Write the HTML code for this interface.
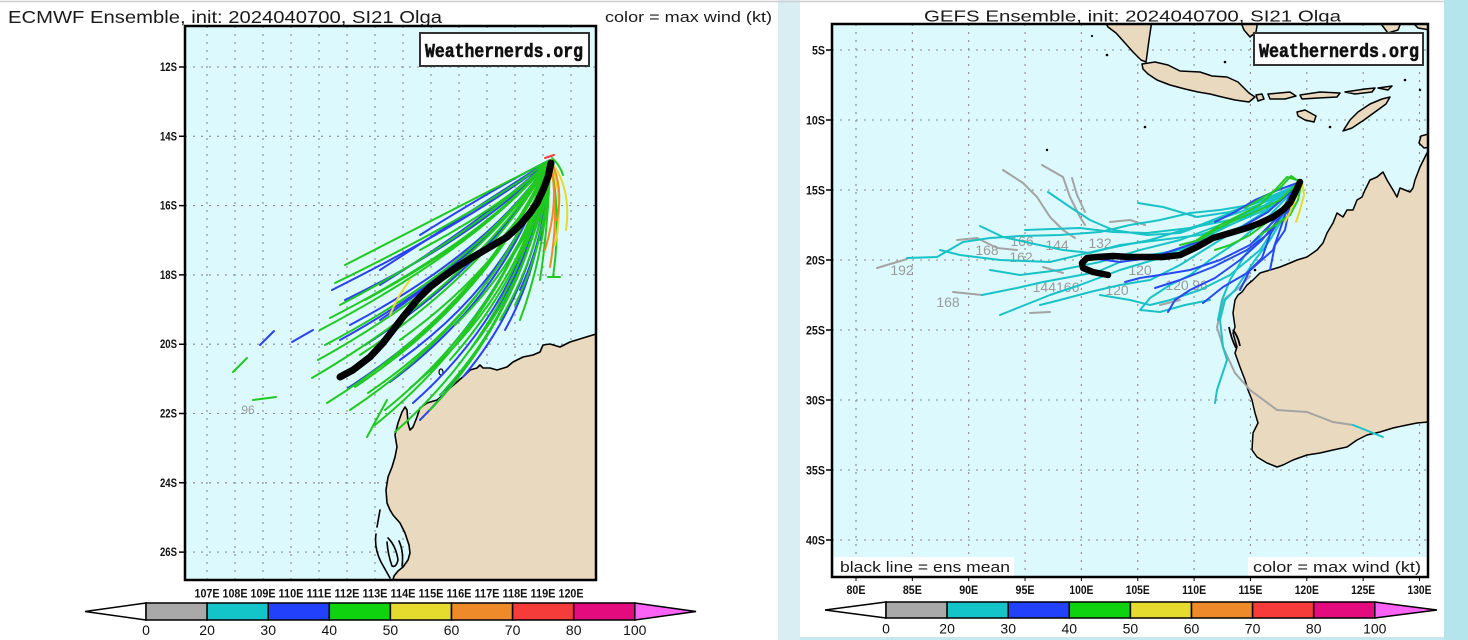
<!DOCTYPE html>
<html>
<head>
<meta charset="utf-8">
<style>
html,body{margin:0;padding:0;background:#fff;}
svg{display:block;}
</style>
</head>
<body>
<svg width="1468" height="640" viewBox="0 0 1468 640" xmlns="http://www.w3.org/2000/svg" font-family="'Liberation Sans', sans-serif">
<defs>
<clipPath id="cl"><rect x="185" y="26" width="411" height="554"/></clipPath>
<clipPath id="cr"><rect x="832" y="24" width="596" height="553"/></clipPath>
</defs>

<rect x="0" y="0" width="1468" height="640" fill="#ffffff"/>
<rect x="778" y="0" width="22" height="640" fill="#d9eef3"/>
<rect x="1444" y="0" width="24" height="640" fill="#b4e4ec"/>
<rect x="800" y="637" width="644" height="3" fill="#c5e8ee"/>
<line x1="0" y1="1.5" x2="1444" y2="1.5" stroke="#cfcfcf" stroke-width="1.5"/>

<!-- ================= LEFT PANEL (ECMWF) ================= -->
<text x="8" y="23" font-size="17.5" fill="#1a1a1a" textLength="434" lengthAdjust="spacingAndGlyphs">ECMWF Ensemble, init: 2024040700, SI21 Olga</text>
<text x="605" y="22" font-size="14.5" fill="#1a1a1a" textLength="167" lengthAdjust="spacingAndGlyphs">color = max wind (kt)</text>

<rect x="185" y="26" width="411" height="554" fill="#dcfafd"/>
<g clip-path="url(#cl)">
  <g stroke="#8a8a8a" stroke-width="1.1" stroke-dasharray="2 6" fill="none">
    <path d="M207,26V580M235,26V580M263,26V580M291,26V580M319,26V580M347,26V580M375,26V580M403,26V580M431,26V580M459,26V580M487,26V580M515,26V580M543,26V580M571,26V580"/>
    <path d="M185,67H596M185,136.3H596M185,205.6H596M185,274.9H596M185,344.2H596M185,413.5H596M185,482.8H596M185,552.1H596"/>
  </g>
  <polygon fill="#e9d9bf" stroke="#000" stroke-width="1.6" stroke-linejoin="round" points="600,333 596,334 583,338 570,342 560,347 550,344 543,345 540,352 533,355 523,357 513,362 507,367 497,370 490,368 483,368 480,365 477,368 470,370 465,375 457,382 450,388 443,395 437,400 427,403 420,408 417,417 413,427 410,430 408,423 407,410 405,407 402,412 398,423 395,435 397,447 395,457 392,467 388,477 386,490 387,503 390,510 393,515 400,523 405,533 409,545 410,553 408,560 403,567 398,571 394,576 393,580 392,586 602,586 602,333"/>
  <ellipse cx="441" cy="372" rx="2" ry="3" fill="none" stroke="#000" stroke-width="1.2"/>
  <g stroke="#000" stroke-width="1.6" fill="none" stroke-linecap="round">
    <path d="M380,510 L377,527"/>
    <path d="M376,534 Q374,548 381,562 L390,578"/>
    <path d="M388,538 Q396,546 398,560 Q396,568 392,566 Q388,555 387,542"/>
    <path d="M399,541 Q404,552 402,566"/>
  </g>
  <text x="248" y="414" font-size="12" fill="#9a9a9a" text-anchor="middle">96</text>
  <!-- blue -->
  <g fill="none" stroke="#2a40f2" stroke-width="2" stroke-linecap="round">
    <path d="M550,160 Q474,219 332,290"/>
    <path d="M550,160 Q488,230 345,300"/>
    <path d="M550,160 Q490,251 350,325"/>
    <path d="M550,160 Q487,259 340,340"/>
    <path d="M550,160 Q489,297 348,388"/>
    <path d="M550,160 Q510,293 390,382"/>
    <path d="M550,160 Q523,306 413,403"/>
    <path d="M550,160 Q524,316 420,420"/>
    <path d="M550,160 Q537,290 463,377"/>
    <path d="M550,160 Q520,275 430,370"/>
    <path d="M550,160 Q536,256 480,335"/>
    <path d="M550,160 Q547,231 520,290"/>
    <path d="M550,160 Q499,240 380,320"/>
    <path d="M550,160 Q490,216 380,285"/>
    <path d="M550,160 Q505,182 420,235"/>
    <path d="M550,160 Q482,204 380,270"/>
    <path d="M550,160 Q494,262 365,345"/>
    <path d="M550,160 Q512,280 400,360"/>
    <path d="M550,160 Q529,298 445,390"/>
    <path d="M550,160 Q543,262 505,330"/>
    <path d="M550,160 Q549,200 540,240"/>
    <path d="M260,345 L274,331"/>
    <path d="M292,342 L313,330"/>
  </g>
  <!-- green -->
  <g fill="none" stroke="#20c820" stroke-width="2" stroke-linecap="round">
    <path d="M550,160 Q475,215 335,283"/>
    <path d="M550,160 Q484,239 330,318"/>
    <path d="M550,160 Q481,245 320,330"/>
    <path d="M550,160 Q480,270 318,360"/>
    <path d="M550,160 Q479,280 312,378"/>
    <path d="M550,160 Q483,306 327,403"/>
    <path d="M550,160 Q492,296 355,387"/>
    <path d="M550,160 Q505,300 368,393"/>
    <path d="M550,160 Q493,267 360,355"/>
    <path d="M550,160 Q522,297 410,388"/>
    <path d="M550,160 Q509,310 385,410"/>
    <path d="M550,160 Q506,319 375,425"/>
    <path d="M550,160 Q519,323 395,432"/>
    <path d="M550,160 Q528,301 440,395"/>
    <path d="M550,160 Q530,270 450,360"/>
    <path d="M550,160 Q538,265 470,350"/>
    <path d="M550,160 Q543,248 500,320"/>
    <path d="M550,160 Q547,240 515,305"/>
    <path d="M550,160 Q549,220 540,280"/>
    <path d="M550,160 Q562,215 553,277 M548,277 L560,277"/>
    <path d="M550,160 Q513,259 400,340"/>
    <path d="M550,160 Q495,230 365,300"/>
    <path d="M550,160 Q511,201 420,250"/>
    <path d="M550,160 Q540,196 500,240"/>
    <path d="M550,160 Q544,210 510,260"/>
    <path d="M550,160 Q468,202 345,265"/>
    <path d="M550,160 Q483,262 325,345"/>
    <path d="M550,160 Q500,310 350,410"/>
    <path d="M550,160 Q526,310 430,410"/>
    <path d="M550,160 Q501,273 385,365"/>
    <path d="M550,160 Q531,251 455,325"/>
    <path d="M550,160 Q547,248 520,320"/>
    <path d="M550,160 Q477,233 340,305"/>
    <path d="M552,158 Q560,165 563,175"/>
    <path d="M233,372 L247,358"/>
    <path d="M253,400 L276,397"/>
    <path d="M367,437 L387,400"/>
  </g>
  <g fill="none" stroke-width="2" stroke-linecap="round">
    <path stroke="#e8d830" d="M550,160 Q572,188 566,230"/>
    <path stroke="#e8d830" d="M550,160 Q565,200 555,245"/>
    <path stroke="#e8d830" d="M410,280 Q398,295 390,315"/>
    <path stroke="#f08a28" d="M550,160 Q560,210 550,267"/>
    <path stroke="#f08a28" d="M550,160 Q560,200 545,250"/>
    <path stroke="#f08a28" d="M550,160 Q564,185 557,220"/>
    <path stroke="#f63b3b" d="M545,158 L554,155"/>
  </g>
  <polyline fill="none" stroke="#000" stroke-width="7" stroke-linecap="round" stroke-linejoin="round" points="551,163 548,177 543,190 537,203 530,213 520,225 507,237 490,247 473,257 457,267 443,277 430,287 417,300 403,317 393,330 383,343 370,357 353,370 340,377"/>
</g>
<rect x="420" y="33" width="169" height="33" fill="#fff" stroke="#333" stroke-width="2"/>
<text x="425" y="57" font-family="'Liberation Mono', monospace" font-weight="bold" font-size="19" fill="#111" stroke="#111" stroke-width="0.6" textLength="158" lengthAdjust="spacingAndGlyphs">Weathernerds.org</text>
<rect x="185" y="26" width="411" height="554" fill="none" stroke="#000" stroke-width="2.5"/>

<g font-size="11.5" font-weight="bold" fill="#111" text-anchor="end">
  <text x="177" y="71" textLength="17" lengthAdjust="spacingAndGlyphs">12S</text>
  <text x="177" y="140.3" textLength="17" lengthAdjust="spacingAndGlyphs">14S</text>
  <text x="177" y="209.6" textLength="17" lengthAdjust="spacingAndGlyphs">16S</text>
  <text x="177" y="278.9" textLength="17" lengthAdjust="spacingAndGlyphs">18S</text>
  <text x="177" y="348.2" textLength="17" lengthAdjust="spacingAndGlyphs">20S</text>
  <text x="177" y="417.5" textLength="17" lengthAdjust="spacingAndGlyphs">22S</text>
  <text x="177" y="486.8" textLength="17" lengthAdjust="spacingAndGlyphs">24S</text>
  <text x="177" y="556.1" textLength="17" lengthAdjust="spacingAndGlyphs">26S</text>
</g>
<path d="M179,67H185M179,136.3H185M179,205.6H185M179,274.9H185M179,344.2H185M179,413.5H185M179,482.8H185M179,552.1H185" stroke="#000" stroke-width="1.5"/>
<g font-size="12" font-weight="bold" fill="#111" text-anchor="middle">
  <text x="207" y="597.5" textLength="25" lengthAdjust="spacingAndGlyphs">107E</text>
  <text x="235" y="597.5" textLength="25" lengthAdjust="spacingAndGlyphs">108E</text>
  <text x="263" y="597.5" textLength="25" lengthAdjust="spacingAndGlyphs">109E</text>
  <text x="291" y="597.5" textLength="25" lengthAdjust="spacingAndGlyphs">110E</text>
  <text x="319" y="597.5" textLength="25" lengthAdjust="spacingAndGlyphs">111E</text>
  <text x="347" y="597.5" textLength="25" lengthAdjust="spacingAndGlyphs">112E</text>
  <text x="375" y="597.5" textLength="25" lengthAdjust="spacingAndGlyphs">113E</text>
  <text x="403" y="597.5" textLength="25" lengthAdjust="spacingAndGlyphs">114E</text>
  <text x="431" y="597.5" textLength="25" lengthAdjust="spacingAndGlyphs">115E</text>
  <text x="459" y="597.5" textLength="25" lengthAdjust="spacingAndGlyphs">116E</text>
  <text x="487" y="597.5" textLength="25" lengthAdjust="spacingAndGlyphs">117E</text>
  <text x="515" y="597.5" textLength="25" lengthAdjust="spacingAndGlyphs">118E</text>
  <text x="543" y="597.5" textLength="25" lengthAdjust="spacingAndGlyphs">119E</text>
  <text x="571" y="597.5" textLength="25" lengthAdjust="spacingAndGlyphs">120E</text>
</g>
<g stroke="#000" stroke-width="1.5">
  <polygon points="85,611.5 146,603 146,620" fill="#fff"/>
  <rect x="146" y="603" width="61.1" height="17" fill="#a9a9a9"/>
  <rect x="207.1" y="603" width="61.1" height="17" fill="#13c5c8"/>
  <rect x="268.2" y="603" width="61.1" height="17" fill="#2142fa"/>
  <rect x="329.3" y="603" width="61.1" height="17" fill="#0fd30f"/>
  <rect x="390.4" y="603" width="61.1" height="17" fill="#e5db2e"/>
  <rect x="451.5" y="603" width="61.1" height="17" fill="#ef8a2a"/>
  <rect x="512.6" y="603" width="61.1" height="17" fill="#f63b3b"/>
  <rect x="573.7" y="603" width="61.1" height="17" fill="#e40b7e"/>
  <polygon points="634.8,603 696,611.5 634.8,620" fill="#fa63f5"/>
</g>
<g font-size="14" fill="#111" text-anchor="middle">
  <text x="146" y="635">0</text>
  <text x="207.1" y="635">20</text>
  <text x="268.2" y="635">30</text>
  <text x="329.3" y="635">40</text>
  <text x="390.4" y="635">50</text>
  <text x="451.5" y="635">60</text>
  <text x="512.6" y="635">70</text>
  <text x="573.7" y="635">80</text>
  <text x="634.8" y="635">100</text>
</g>

<!-- ================= RIGHT PANEL (GEFS) ================= -->
<text x="924" y="21.5" font-size="16" fill="#1a1a1a" textLength="417" lengthAdjust="spacingAndGlyphs">GEFS Ensemble, init: 2024040700, SI21 Olga</text>

<rect x="832" y="24" width="596" height="553" fill="#dcfafd"/>
<g clip-path="url(#cr)">
  <g stroke="#8a8a8a" stroke-width="1.1" stroke-dasharray="2 6" fill="none">
    <path d="M856,24V577M912.35,24V577M968.7,24V577M1025.05,24V577M1081.4,24V577M1137.75,24V577M1194.1,24V577M1250.45,24V577M1306.8,24V577M1363.15,24V577M1419.5,24V577"/>
    <path d="M832,50H1428M832,120H1428M832,190H1428M832,260H1428M832,330H1428M832,400H1428M832,470H1428M832,540H1428"/>
  </g>
  <g fill="#e9d9bf" stroke="#000" stroke-width="1.5" stroke-linejoin="round">
    <polygon points="1432,148 1427,153 1420,167 1415,180 1413,188 1410,192 1400,188 1397,197 1393,190 1387,180 1383,172 1377,177 1370,180 1365,190 1362,197 1357,200 1353,210 1347,210 1343,217 1337,213 1333,223 1327,233 1323,243 1317,250 1307,257 1297,260 1290,263 1280,267 1270,270 1260,273 1253,280 1247,285 1242,292 1238,295 1235,300 1233,313 1235,327 1233,333 1237,347 1235,353 1240,367 1245,380 1248,390 1252,400 1255,413 1258,423 1253,433 1252,450 1257,457 1267,463 1277,467 1283,465 1293,460 1307,455 1320,453 1333,450 1347,447 1357,440 1367,435 1380,432 1393,428 1407,425 1417,423 1428,422 1432,422"/>
    <polygon points="1432,133 1421,136 1419,143 1424,148 1432,147"/>
    <polygon points="1104,20 1152,20 1149,40 1147,55 1146,62 1141,60 1133,52 1125,43 1116,33 1108,27"/>
    <polygon points="1142,64 1155,62 1168,65 1180,71 1200,72 1212,76 1227,77 1238,82 1244,88 1249,93 1255,97 1249,102 1235,100 1222,97 1210,94 1198,92 1185,89 1170,85 1157,80 1148,74 1143,69"/>
    <polygon points="1256,95 1262,94 1264,99 1258,101"/>
    <polygon points="1268,94 1290,92 1296,96 1285,99 1270,99"/>
    <polygon points="1300,95 1320,92 1340,93 1337,97 1318,98 1302,99"/>
    <polygon points="1345,92 1365,89 1375,88 1372,92 1355,94"/>
    <polygon points="1378,88 1392,86 1388,90"/>
    <polygon points="1297,112 1305,110 1316,116 1314,122 1305,120 1298,116"/>
    <polygon points="1343,131 1350,120 1358,112 1370,104 1382,99 1390,97 1386,104 1375,112 1364,120 1352,128"/>
    <polygon points="1240,20 1258,20 1256,32 1250,37 1244,30"/>
    <polygon points="1378,20 1402,20 1398,30 1388,33"/>
    <polygon points="1410,20 1430,20 1430,30 1418,28"/>
  </g>
  <g fill="#000">
    <circle cx="1107" cy="55" r="1.3"/><circle cx="1225" cy="62" r="1.3"/><circle cx="1145" cy="127" r="1.3"/>
    <circle cx="1047" cy="150" r="1.2"/><circle cx="1405" cy="80" r="1.3"/><circle cx="1330" cy="127" r="1.3"/>
    <circle cx="1420" cy="90" r="1.2"/><circle cx="1255" cy="270" r="1.3"/><circle cx="1092" cy="36" r="1.1"/>
  </g>
  <path d="M1229,327 Q1231,338 1236,348 M1233,330 Q1238,336 1240,346" fill="none" stroke="#000" stroke-width="1.8"/>
  <g font-size="14" fill="#9a9a9a" text-anchor="middle">
    <text x="902" y="275">192</text>
    <text x="987" y="255">168</text>
    <text x="948" y="307">168</text>
    <text x="1022" y="246">166</text>
    <text x="1021" y="262">162</text>
    <text x="1057" y="250">144</text>
    <text x="1056" y="292">144166</text>
    <text x="1117" y="295">120</text>
    <text x="1100" y="248">132</text>
    <text x="1140" y="275">120</text>
    <text x="1177" y="290">120</text>
    <text x="1200" y="290">96</text>
  </g>
  <g fill="none" stroke-width="2" stroke-linecap="round" stroke-linejoin="round">
    <g stroke="#a3a3a3">
      <polyline points="1075,238 1063,230 1050,217 1037,197 1023,183 1003,170"/>
      <polyline points="1085,225 1080,217 1070,197 1063,177 1042,165"/>
      <polyline points="1072,178 1077,195 1085,212"/>
      <polyline points="877,268 907,259"/>
      <polyline points="953,292 982,295"/>
      <polyline points="1030,313 1050,312"/>
      <polyline points="1250,276 1240,287 1223,300 1217,327 1223,347 1235,373 1250,390 1277,410 1307,412 1333,422 1353,425"/>
      <polyline points="957,240 977,238 997,248 1017,250"/>
      <polyline points="1043,267 1063,273"/>
      <polyline points="1110,222 1130,220 1145,225"/>
      <polyline points="1160,305 1180,300"/>
    </g>
    <g stroke="#19c2c6">
      <polyline points="1300,182 1280,195 1250,205 1220,210 1190,213 1160,220 1130,225 1100,232 1060,235 1020,236 990,238 963,242 937,257 907,258"/>
      <polyline points="1300,182 1275,205 1245,225 1210,240 1180,250 1150,255 1120,262 1097,272 1070,277 1043,282 1017,288 982,295"/>
      <polyline points="1298,185 1270,200 1240,212 1210,222 1180,233 1147,235 1113,230 1090,220 1070,207 1048,192"/>
      <polyline points="1298,186 1265,210 1230,225 1200,235 1160,240 1120,245 1090,253 1063,250 1030,243 1003,237 980,226"/>
      <polyline points="1300,183 1270,198 1230,212 1197,217 1180,212 1163,207 1138,203"/>
      <polyline points="1299,184 1265,205 1230,220 1190,228 1147,233 1113,232 1080,228 1025,230"/>
      <polyline points="1299,185 1260,215 1220,240 1180,265 1150,280 1120,285 1090,292 1060,300 1040,305"/>
      <polyline points="1298,190 1285,215 1270,240 1255,260 1245,275 1235,290 1225,300 1220,320 1223,347 1227,360 1222,375 1217,390 1215,403"/>
      <polyline points="1297,190 1280,220 1260,250 1230,275 1200,290 1170,300 1150,305 1130,300 1100,295"/>
      <polyline points="1296,188 1270,215 1240,240 1210,260 1190,275 1170,285 1150,298 1140,310 1160,312 1185,305 1210,300"/>
      <polyline points="1299,186 1260,208 1220,225 1180,240 1140,250 1100,262 1060,270 1020,275 990,270"/>
      <polyline points="1298,186 1250,215 1200,240 1160,258 1120,270 1080,285 1050,295 1025,305 1000,315"/>
      <polyline points="1353,425 1383,437"/>
      <polyline points="1299,188 1270,225 1245,255 1230,280 1222,300 1218,320"/>
      <polyline points="1300,184 1250,205 1200,225 1150,240 1100,250 1050,262 1000,260 960,255 940,250"/>
    </g>
    <g stroke="#2a48f0">
      <polyline points="1300,183 1285,205 1273,230 1247,250 1213,267 1180,280 1155,288"/>
      <polyline points="1300,184 1285,215 1273,250 1247,273 1223,287 1203,303"/>
      <polyline points="1299,185 1275,220 1250,245 1220,260 1190,270 1160,275 1140,278 1125,282"/>
      <polyline points="1300,183 1282,215 1262,240 1240,260 1215,278 1190,290 1175,300 1168,312"/>
      <polyline points="1298,185 1268,212 1240,228 1210,238 1180,248 1150,258 1120,262 1090,258"/>
      <polyline points="1300,182 1290,195 1280,215 1270,235 1262,258 1250,270 1240,290"/>
      <polyline points="1300,182 1278,190 1255,200 1235,212 1215,222"/>
      <polyline points="1300,183 1290,205 1285,230 1275,245 1270,270"/>
    </g>
    <g stroke="#24c824">
      <polyline points="1300,181 1287,177 1275,190 1260,205 1240,215 1220,225 1197,240"/>
      <polyline points="1300,181 1280,200 1260,210 1235,220 1215,230 1200,240 1180,245"/>
      <polyline points="1300,184 1285,205 1270,220 1250,235 1230,245 1215,250"/>
      <polyline points="1301,185 1298,200 1290,215 1275,225 1260,235"/>
      <polyline points="1300,182 1291,176 1280,188 1262,198 1245,208"/>
    </g>
    <g stroke="#e6d82c">
      <polyline points="1302,182 1304,195 1300,210 1296,222"/>
      <polyline points="1299,190 1290,205 1280,215"/>
      <polyline points="1300,185 1295,200 1290,212 1285,222"/>
    </g>
  </g>
  <polyline fill="none" stroke="#000" stroke-width="6.5" stroke-linecap="round" stroke-linejoin="round" points="1300,182 1295,193 1290,203 1283,210 1273,217 1260,223 1247,228 1230,233 1213,238 1197,247 1180,255 1163,257 1147,257 1130,257 1113,256 1097,257 1087,258 1082,263 1083,268 1093,272 1108,275"/>
  <rect x="834" y="557" width="180" height="20" fill="#fff"/>
  <rect x="1248" y="557" width="182" height="20" fill="#fff"/>
  <text x="840" y="572" font-size="14.5" fill="#1a1a1a" textLength="170" lengthAdjust="spacingAndGlyphs">black line = ens mean</text>
  <text x="1253" y="572" font-size="14.5" fill="#1a1a1a" textLength="168" lengthAdjust="spacingAndGlyphs">color = max wind (kt)</text>
</g>
<rect x="1254" y="33" width="169" height="32" fill="#fff" stroke="#333" stroke-width="2"/>
<text x="1259" y="57" font-family="'Liberation Mono', monospace" font-weight="bold" font-size="19" fill="#111" stroke="#111" stroke-width="0.6" textLength="160" lengthAdjust="spacingAndGlyphs">Weathernerds.org</text>
<rect x="832" y="24" width="596" height="553" fill="none" stroke="#000" stroke-width="2.5"/>

<g font-size="12" font-weight="bold" fill="#111" text-anchor="end">
  <text x="825" y="54.5" textLength="13" lengthAdjust="spacingAndGlyphs">5S</text>
  <text x="825" y="124.5" textLength="19" lengthAdjust="spacingAndGlyphs">10S</text>
  <text x="825" y="194.5" textLength="19" lengthAdjust="spacingAndGlyphs">15S</text>
  <text x="825" y="264.5" textLength="19" lengthAdjust="spacingAndGlyphs">20S</text>
  <text x="825" y="334.5" textLength="19" lengthAdjust="spacingAndGlyphs">25S</text>
  <text x="825" y="404.5" textLength="19" lengthAdjust="spacingAndGlyphs">30S</text>
  <text x="825" y="474.5" textLength="19" lengthAdjust="spacingAndGlyphs">35S</text>
  <text x="825" y="544.5" textLength="19" lengthAdjust="spacingAndGlyphs">40S</text>
</g>
<path d="M826,50H832M826,120H832M826,190H832M826,260H832M826,330H832M826,400H832M826,470H832M826,540H832" stroke="#000" stroke-width="1.5"/>
<path d="M856,577V581M912.35,577V581M968.7,577V581M1025.05,577V581M1081.4,577V581M1137.75,577V581M1194.1,577V581M1250.45,577V581M1306.8,577V581M1363.15,577V581M1419.5,577V581" stroke="#000" stroke-width="1"/>
<g font-size="12" font-weight="bold" fill="#111" text-anchor="middle">
  <text x="856" y="594" textLength="19" lengthAdjust="spacingAndGlyphs">80E</text>
  <text x="912.35" y="594" textLength="19" lengthAdjust="spacingAndGlyphs">85E</text>
  <text x="968.7" y="594" textLength="19" lengthAdjust="spacingAndGlyphs">90E</text>
  <text x="1025.05" y="594" textLength="19" lengthAdjust="spacingAndGlyphs">95E</text>
  <text x="1081.4" y="594" textLength="24" lengthAdjust="spacingAndGlyphs">100E</text>
  <text x="1137.75" y="594" textLength="24" lengthAdjust="spacingAndGlyphs">105E</text>
  <text x="1194.1" y="594" textLength="24" lengthAdjust="spacingAndGlyphs">110E</text>
  <text x="1250.45" y="594" textLength="24" lengthAdjust="spacingAndGlyphs">115E</text>
  <text x="1306.8" y="594" textLength="24" lengthAdjust="spacingAndGlyphs">120E</text>
  <text x="1363.15" y="594" textLength="24" lengthAdjust="spacingAndGlyphs">125E</text>
  <text x="1419.5" y="594" textLength="24" lengthAdjust="spacingAndGlyphs">130E</text>
</g>
<g stroke="#000" stroke-width="1.5">
  <polygon points="825,610 886,602 886,618" fill="#fff"/>
  <rect x="886" y="602" width="61.1" height="16" fill="#a9a9a9"/>
  <rect x="947.1" y="602" width="61.1" height="16" fill="#13c5c8"/>
  <rect x="1008.2" y="602" width="61.1" height="16" fill="#2142fa"/>
  <rect x="1069.3" y="602" width="61.1" height="16" fill="#0fd30f"/>
  <rect x="1130.4" y="602" width="61.1" height="16" fill="#e5db2e"/>
  <rect x="1191.5" y="602" width="61.1" height="16" fill="#ef8a2a"/>
  <rect x="1252.6" y="602" width="61.1" height="16" fill="#f63b3b"/>
  <rect x="1313.7" y="602" width="61.1" height="16" fill="#e40b7e"/>
  <polygon points="1374.8,602 1437,610 1374.8,618" fill="#fa63f5"/>
</g>
<g font-size="14" fill="#111" text-anchor="middle">
  <text x="886" y="633.5">0</text>
  <text x="947.1" y="633.5">20</text>
  <text x="1008.2" y="633.5">30</text>
  <text x="1069.3" y="633.5">40</text>
  <text x="1130.4" y="633.5">50</text>
  <text x="1191.5" y="633.5">60</text>
  <text x="1252.6" y="633.5">70</text>
  <text x="1313.7" y="633.5">80</text>
  <text x="1374.8" y="633.5">100</text>
</g>
</svg>
</body>
</html>
